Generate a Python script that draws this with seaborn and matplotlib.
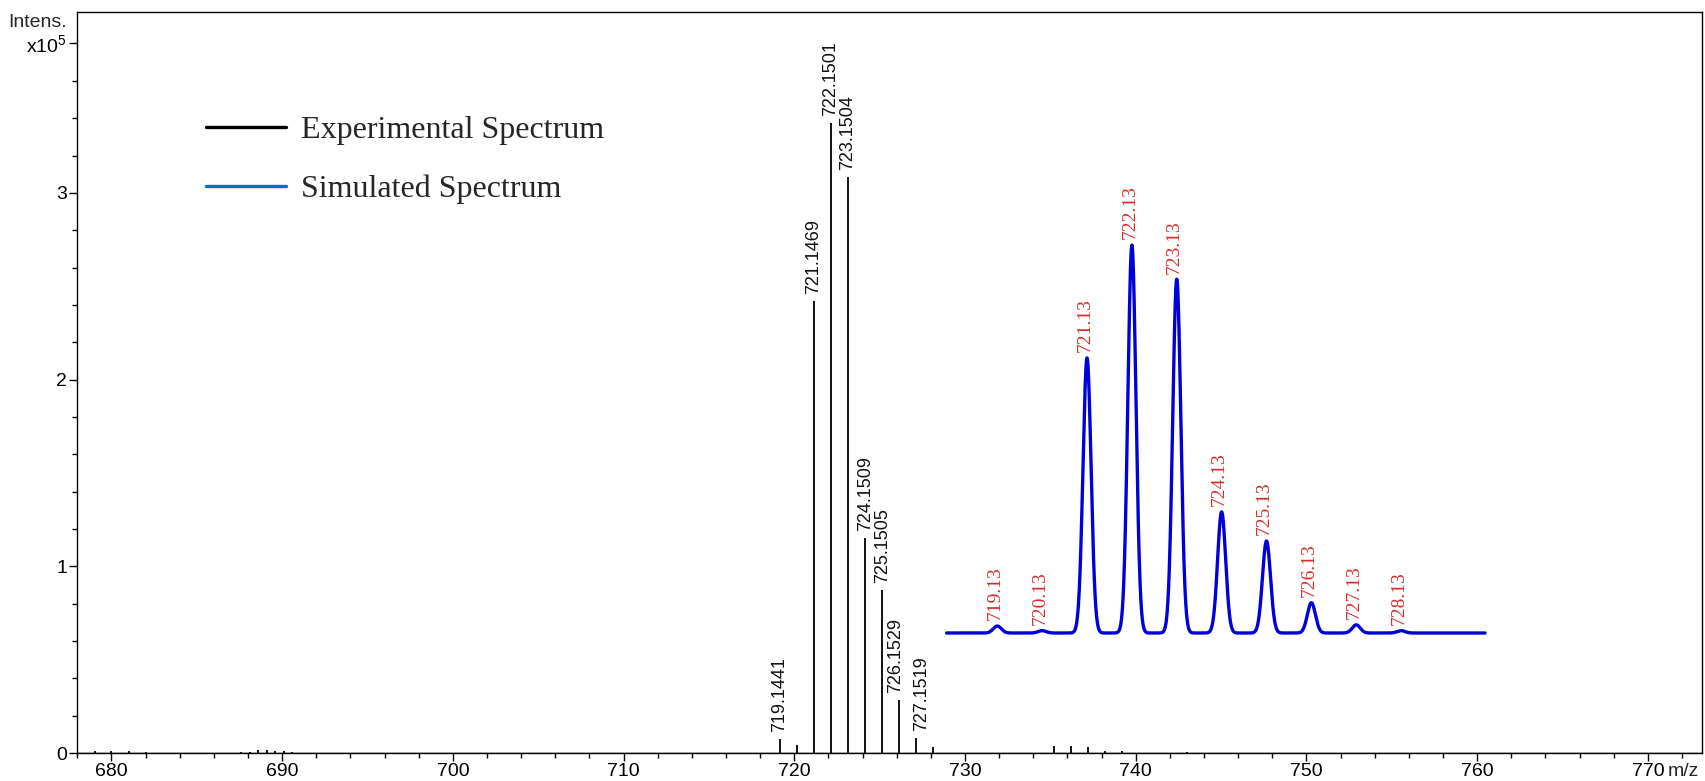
import numpy as np
import pandas as pd
import matplotlib
matplotlib.use("Agg")
import matplotlib.pyplot as plt
from matplotlib.lines import Line2D
import seaborn as sns

# ---------------- data ----------------
exp_mz = [679.05, 680.0, 681.05, 682.05, 687.6, 688.1, 688.6, 689.1, 689.6, 690.1, 690.6,
          719.1441, 720.14, 721.1469, 722.1501, 723.1504, 724.1509, 725.1505,
          726.1529, 727.1519, 728.15,
          735.2, 736.2, 737.2, 738.2, 739.2, 743.0]
exp_int = [0.010, 0.012, 0.012, 0.008, 0.006, 0.008, 0.014, 0.016, 0.012, 0.010, 0.006,
           0.073, 0.045, 2.42, 3.374, 3.085, 1.152, 0.873,
           0.284, 0.080, 0.030,
           0.035, 0.035, 0.030, 0.012, 0.012, 0.008]
exp_labels = ["719.1441", "721.1469", "722.1501", "723.1504",
              "724.1509", "725.1505", "726.1529", "727.1519"]

sim_mz = [719.13, 720.13, 721.13, 722.13, 723.13, 724.13, 725.13, 726.13, 727.13, 728.13]
sim_int = [1.8, 0.6, 70.9, 100.0, 91.2, 31.2, 23.7, 7.8, 2.1, 0.6]
sim_labels = ["719.13", "720.13", "721.13", "722.13", "723.13",
              "724.13", "725.13", "726.13", "727.13", "728.13"]
sim_range = (718.0, 730.0)
sim_sigma = 0.09

y_ticks = [0, 1, 2, 3, 3.8]
y_ticklabels = ["0", "1", "2", "3", "x10$^5$"]
x_ticks = [680, 690, 700, 710, 720, 730, 740, 750, 760, 770]

# ---------------- style ----------------
sns.set_style("ticks")
plt.rcParams["font.family"] = ["Liberation Sans", "DejaVu Sans"]
plt.rcParams["mathtext.fontset"] = "custom"
plt.rcParams["mathtext.rm"] = "Liberation Sans"
plt.rcParams["mathtext.it"] = "Liberation Sans:italic"
plt.rcParams["mathtext.bf"] = "Liberation Sans:bold"
plt.rcParams["axes.edgecolor"] = "black"
plt.rcParams["xtick.color"] = "black"
plt.rcParams["ytick.color"] = "black"

fig = plt.figure(figsize=(17.06, 7.81), dpi=100)
ax = fig.add_axes([77.3 / 1706, 1 - 753 / 781, (1701.7 - 77.3) / 1706, (753 - 12.3) / 781])

# experimental stick spectrum
ax.vlines(exp_mz, 0, exp_int, color="black", lw=1.3)
ax.axhline(0, color="black", lw=1.0)

nudge = {"726.1529": -2.5, "727.1519": 4.0}
for lab in exp_labels:
    m = float(lab)
    i = int(np.argmin(np.abs(np.array(exp_mz) - m)))
    ax.annotate(lab, xy=(exp_mz[i], exp_int[i]), xytext=(nudge.get(lab, 0), 5),
                textcoords="offset points", rotation=90, ha="center", va="bottom",
                fontsize=13, color="#111111")

ax.set_xlim(678.28, 773.15)
ax.set_ylim(0, 3.967)
ax.set_xticks(x_ticks)
ax.set_xticklabels([str(t) for t in x_ticks])
ax.set_xticks(np.arange(678, 774, 2), minor=True)
ax.set_yticks(y_ticks)
ax.set_yticklabels(y_ticklabels)
ax.set_yticks(np.arange(0, 3.97, 0.2), minor=True)
ax.tick_params(axis="both", which="major", length=5.5, width=1.0, labelsize=14, pad=2)
ax.tick_params(axis="both", which="minor", length=3.5, width=1.0)
for s in ax.spines.values():
    s.set_linewidth(1.0)
    s.set_color("black")

ax.annotate("Intens.", xy=(0, 3.915), xycoords=("axes fraction", "data"),
            xytext=(-7.5, 0), textcoords="offset points", ha="right", va="center", fontsize=14)
ax.annotate("m/z", xy=(771.13, 0), xycoords=("data", "axes fraction"),
            xytext=(0, -7.5), textcoords="offset points", ha="left", va="top", fontsize=14)

# simulated spectrum inset
ins = ax.inset_axes([(946.6 - 77.3) / 1624.4, (753 - 633) / 740.7,
                     (1485 - 946.6) / 1624.4, 388 / 740.7])
grid = np.linspace(sim_range[0], sim_range[1], 3001)
prof = np.zeros_like(grid)
for m, h in zip(sim_mz, sim_int):
    prof += h * np.exp(-0.5 * ((grid - m) / sim_sigma) ** 2)
df_sim = pd.DataFrame({"mz": grid, "intensity": prof})
sns.lineplot(data=df_sim, x="mz", y="intensity", ax=ins, color="#0000dd", lw=2.4)
for ln in ins.get_lines():
    ln.set_clip_on(False)
ins.set_xlim(*sim_range)
ins.set_ylim(0, 100)
ins.set_xlabel("")
ins.set_ylabel("")
ins.axis("off")
for m, h, lab in zip(sim_mz, sim_int, sim_labels):
    ins.annotate(lab, xy=(m, h), xytext=(-1.5, 4), textcoords="offset points",
                 rotation=90, ha="center", va="bottom", fontsize=14,
                 color="#d92b2b", family=["Liberation Serif", "DejaVu Serif"])

# legend
handles = [Line2D([], [], color="black", lw=2.4),
           Line2D([], [], color="#0070c0", lw=2.4)]
ax.legend(handles, ["Experimental Spectrum", "Simulated Spectrum"],
          loc="upper left", bbox_to_anchor=(0.0792, 0.8607), frameon=False,
          borderpad=0, borderaxespad=0, handlelength=2.52, handletextpad=0.44,
          labelspacing=0.92, prop={"family": ["Liberation Serif", "DejaVu Serif"], "size": 23})

fig.savefig("out.png", dpi=100)
